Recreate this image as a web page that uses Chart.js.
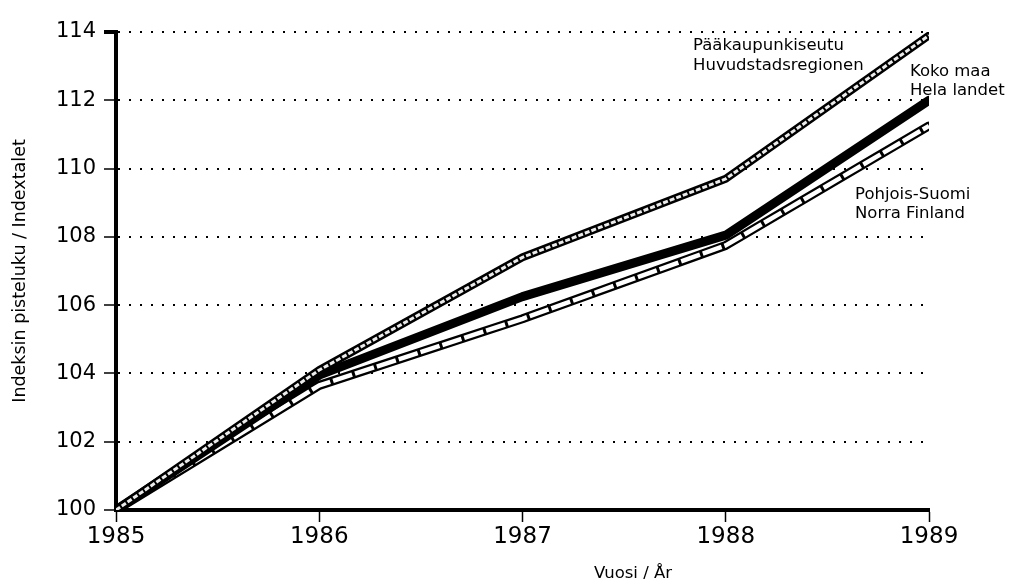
<!DOCTYPE html>
<html>
<head>
<meta charset="utf-8">
<script src="https://cdn.jsdelivr.net/npm/chart.js@4/dist/chart.umd.min.js"></script>
<style>
  html, body { margin: 0; padding: 0; background: #fff; }
  #wrap { width: 1009px; height: 581px; position: relative; }
</style>
</head>
<body>
<div id="wrap"><canvas id="c" width="1009" height="581"></canvas></div>
<script>
// ---- Data ----
const years = [1985, 1986, 1987, 1988, 1989];
const paakaupunkiseutu = [100, 104.1, 107.4, 109.7, 113.9];
const kokoMaa = [100, 103.95, 106.25, 108.05, 112.0];
const pohjoisSuomi = [100, 103.65, 105.6, 107.75, 111.25];
const yTickValues = [100, 102, 104, 106, 108, 110, 112, 114];

const labelPaa = ['Pääkaupunkiseutu', 'Huvudstadsregionen'];
const labelKoko = ['Koko maa', 'Hela landet'];
const labelPohj = ['Pohjois-Suomi', 'Norra Finland'];

const yTitle = 'Indeksin pisteluku / Indextalet';
const xTitle = 'Vuosi / År';

const FONT = "'DejaVu Sans', 'Liberation Sans', Arial, sans-serif";

function pts(arr) { return years.map((y, i) => ({ x: y, y: arr[i] })); }

const base = { pointRadius: 0, tension: 0, fill: false, borderCapStyle: 'round', borderJoinStyle: 'round' };

// lower "order" is drawn on top
const datasets = [
  Object.assign({}, base, { label: labelPohj.join(' '), data: pts(pohjoisSuomi), borderColor: '#000', borderWidth: 9, order: 5 }),
  Object.assign({}, base, { label: '', data: pts(pohjoisSuomi), borderColor: '#fff', borderWidth: 4.5, borderDash: [20, 3], borderCapStyle: 'butt', order: 4 }),
  Object.assign({}, base, { label: labelKoko.join(' '), data: pts(kokoMaa), borderColor: '#000', borderWidth: 9, order: 3 }),
  Object.assign({}, base, { label: labelPaa.join(' '), data: pts(paakaupunkiseutu), borderColor: '#000', borderWidth: 8, order: 2 }),
  Object.assign({}, base, { label: '', data: pts(paakaupunkiseutu), borderColor: '#ececec', borderWidth: 3, borderDash: [5, 2], borderCapStyle: 'butt', order: 1 })
];

const textLabels = {
  id: 'textLabels',
  afterDraw(chart) {
    const { ctx, scales: { x, y } } = chart;
    ctx.save();
    ctx.fillStyle = '#000';
    ctx.font = '16.5px ' + FONT;
    ctx.textAlign = 'left';
    ctx.textBaseline = 'middle';
    const put = (lines, xv, yv) => {
      const px = x.getPixelForValue(xv), py = y.getPixelForValue(yv);
      lines.forEach((t, i) => ctx.fillText(t, px, py + i * 19.5));
    };
    put(labelPaa, 1987.839, 113.59);
    put(labelKoko, 1988.906, 112.85);
    put(labelPohj, 1988.636, 109.24);
    // x axis title
    ctx.textAlign = 'center';
    ctx.fillText(xTitle, x.getPixelForValue(1987.544), y.getPixelForValue(98.125));
    ctx.restore();
  }
};

new Chart(document.getElementById('c'), {
  type: 'line',
  data: { datasets },
  options: {
    responsive: false,
    animation: false,
    layout: { padding: { left: 0, right: 80, top: 32, bottom: 0 } },
    plugins: { legend: { display: false }, tooltip: { enabled: false } },
    scales: {
      x: {
        type: 'linear',
        min: years[0],
        max: years[years.length - 1],
        afterBuildTicks(scale) { scale.ticks = years.map(v => ({ value: v })); },
        afterFit(scale) { scale.height = 71; },
        border: { display: true, color: '#000', width: 4 },
        grid: { drawOnChartArea: false, drawTicks: true, tickLength: 12, tickColor: '#000', tickWidth: 1.5 },
        ticks: {
          color: '#000', padding: 1, maxRotation: 0,
          font: { family: FONT, size: 23 },
          callback: v => String(v)
        },
        title: { display: false }
      },
      y: {
        type: 'linear',
        min: 100,
        max: 114,
        afterBuildTicks(scale) { scale.ticks = yTickValues.map(v => ({ value: v })); },
        afterFit(scale) { scale.width = 116; },
        border: { display: true, color: '#000', width: 4, dash: [2, 9] },
        grid: {
          color: ctx => (ctx.tick && ctx.tick.value === 100) ? 'rgba(0,0,0,0)' : '#000',
          lineWidth: 2,
          drawTicks: true, tickLength: 12, tickColor: '#000',
          tickWidth: ctx => (ctx.tick && ctx.tick.value === 114) ? 4 : 1.5,
          tickBorderDash: []
        },
        ticks: {
          color: '#000', padding: 8,
          font: { family: FONT, size: 21 },
          callback: v => String(v)
        },
        title: { display: true, text: yTitle, color: '#000', font: { family: FONT, size: 17.5 }, padding: { top: 9.5, bottom: 0 } }
      }
    }
  },
  plugins: [textLabels]
});
</script>
</body>
</html>
